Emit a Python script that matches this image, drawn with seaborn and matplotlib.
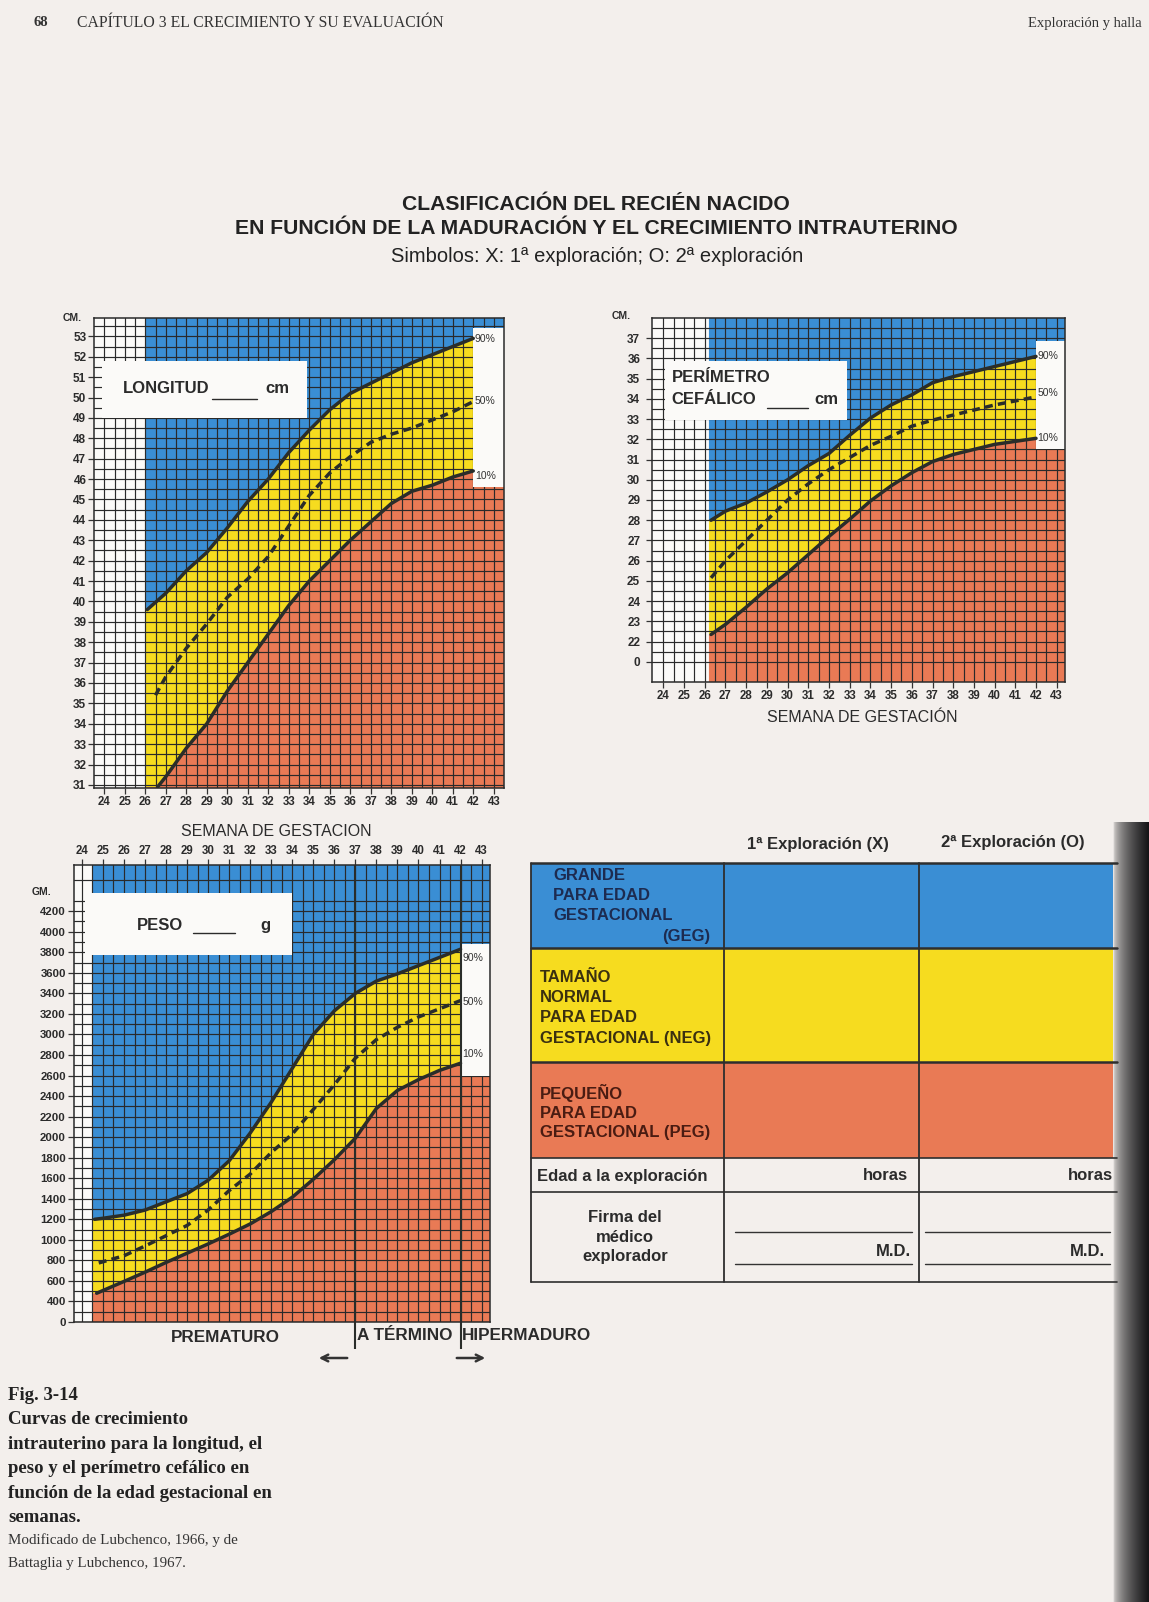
import numpy as np
import pandas as pd
import matplotlib
matplotlib.use("Agg")
import matplotlib.pyplot as plt
import seaborn as sns
from matplotlib import font_manager
from matplotlib.patches import Rectangle

sns.set_theme(style="white")
plt.rcParams['font.family'] = ['Liberation Sans', 'DejaVu Sans']
nombres = {f.name for f in font_manager.fontManager.ttflist}
SERIF = 'Liberation Serif' if 'Liberation Serif' in nombres else 'DejaVu Serif'

# colores
AZUL = '#3a8ed4'
AMARILLO = '#f6dc1f'
NARANJA = '#e97a55'
PAGE = '#f3efec'
BLANCO = '#fbfaf8'
INK = '#2a2d2a'
TXT = '#2b2b2b'

#### DATOS
# LONGITUD (cm)
long_s90 = [26.1, 27, 28, 29, 30, 31, 32, 33, 34, 35, 36, 37, 38, 39, 40, 41, 42]
long_p90 = [39.6, 40.4, 41.5, 42.4, 43.6, 44.9, 46.0, 47.3, 48.4, 49.4, 50.2, 50.7, 51.2, 51.7, 52.1, 52.5, 52.9]
long_s50 = [26.5, 27, 28, 29, 30, 31, 32, 33, 34, 35, 36, 37, 38, 39, 40, 41, 42]
long_p50 = [35.4, 36.3, 37.7, 38.9, 40.2, 41.1, 42.2, 43.7, 45.2, 46.3, 47.1, 47.8, 48.2, 48.5, 48.9, 49.3, 49.8]
long_s10 = [26.6, 27, 28, 29, 30, 31, 32, 33, 34, 35, 36, 37, 38, 39, 40, 41, 42]
long_p10 = [30.9, 31.4, 32.8, 34.0, 35.6, 37.0, 38.4, 39.8, 41.0, 42.0, 43.0, 43.9, 44.8, 45.4, 45.7, 46.1, 46.4]

# PERIMETRO CEFALICO (cm)
pc_s90 = [26.3, 27, 28, 29, 30, 31, 32, 33, 34, 35, 36, 37, 38, 39, 40, 41, 42]
pc_p90 = [28.0, 28.45, 28.85, 29.4, 30.0, 30.7, 31.3, 32.2, 33.05, 33.7, 34.2, 34.8, 35.1, 35.35, 35.6, 35.85, 36.1]
pc_s50 = [26.3, 27, 28, 29, 30, 31, 32, 33, 34, 35, 36, 37, 38, 39, 40, 41, 42]
pc_p50 = [25.15, 26.0, 27.0, 28.0, 29.0, 29.8, 30.5, 31.1, 31.7, 32.15, 32.65, 32.95, 33.2, 33.45, 33.7, 33.9, 34.1]
pc_s10 = [26.3, 27, 28, 29, 30, 31, 32, 33, 34, 35, 36, 37, 38, 39, 40, 41, 42]
pc_p10 = [22.35, 22.85, 23.7, 24.6, 25.4, 26.3, 27.2, 28.05, 28.95, 29.7, 30.35, 30.9, 31.25, 31.5, 31.75, 31.9, 32.05]

# PESO (g)
peso_s90 = [24.6, 25, 26, 27, 28, 29, 30, 31, 32, 33, 34, 35, 36, 37, 38, 39, 40, 41, 42]
peso_p90 = [1200, 1210, 1240, 1290, 1370, 1450, 1580, 1770, 2040, 2340, 2670, 3000, 3230, 3400, 3520, 3590, 3670, 3750, 3830]
peso_s50 = [24.8, 26, 27, 28, 29, 30, 31, 32, 33, 34, 35, 36, 37, 38, 39, 40, 41, 42]
peso_p50 = [775, 845, 940, 1040, 1140, 1290, 1480, 1640, 1850, 2030, 2270, 2510, 2770, 2950, 3070, 3170, 3250, 3330]
peso_s10 = [24.7, 26, 27, 28, 29, 30, 31, 32, 33, 34, 35, 36, 37, 38, 39, 40, 41, 42]
peso_p10 = [480, 595, 685, 780, 870, 960, 1055, 1155, 1275, 1415, 1590, 1780, 1990, 2280, 2455, 2560, 2650, 2720]

semanas = list(range(24, 44))
long_ticks = list(range(31, 54))
pc_ticks = list(range(21, 38))
pc_labels = ['0'] + [str(v) for v in range(22, 38)]
peso_ticks = list(range(200, 4201, 200))
peso_labels = ['0'] + [str(v) for v in range(400, 4201, 200)]
percentiles = ['90%', '50%', '10%']

W, H = 1149, 1602
fig = plt.figure(figsize=(W / 100, H / 100), dpi=100)
fig.patch.set_facecolor(PAGE)

page = fig.add_axes([0, 0, 1, 1], zorder=0)
page.axis('off')


def caja(x0, y0, x1, y1):
    # caja en pixeles -> fraccion de figura
    return [x0 / W, 1 - y1 / H, (x1 - x0) / W, (y1 - y0) / H]


def grafica(ax, xlim, ylim, inicio, curvas, caja_pct, yticks, ylabels, pct_y, arriba=False):
    s90, p90, s50, p50, s10, p10 = curvas
    x0, x1 = xlim
    y0, y1 = ylim
    ax.set_facecolor(BLANCO)
    # zonas de color
    ax.fill([inicio, inicio] + s90 + [42], [y1, p90[0]] + p90 + [y1], color=AZUL, lw=0, zorder=1)
    ax.fill([inicio, inicio] + s90 + s10[::-1], [p10[0], p90[0]] + p90 + p10[::-1],
            color=AMARILLO, lw=0, zorder=1)
    ax.fill([inicio, inicio] + s10 + [42], [y0, p10[0]] + p10 + [y0], color=NARANJA, lw=0, zorder=1)
    lo, hi = caja_pct
    ax.fill([42, x1, x1, 42], [hi, hi, y1, y1], color=AZUL, lw=0, zorder=1)
    ax.fill([42, x1, x1, 42], [y0, y0, lo, lo], color=NARANJA, lw=0, zorder=1)
    ax.add_patch(Rectangle((42, lo), x1 - 42, hi - lo, facecolor=BLANCO, edgecolor='none', zorder=3))

    # percentiles
    for s, p, ls in [(s90, p90, '-'), (s50, p50, (0, (2.3, 1.5))), (s10, p10, '-')]:
        df = pd.DataFrame({'semana': s, 'valor': p})
        sns.lineplot(data=df, x='semana', y='valor', ax=ax, color=INK,
                     lw=2.5, linestyle=ls, zorder=4, estimator=None, sort=False)
    for lab, yy in zip(percentiles, pct_y):
        ax.text(42.08, yy, lab, fontsize=7.5, color='#333', va='center', ha='left', zorder=5)

    ax.set_xlim(x0, x1)
    ax.set_ylim(y0, y1)
    ax.set_xlabel('')
    ax.set_ylabel('')
    ax.set_xticks(semanas)
    ax.set_xticks(np.arange(24.5, 43.0, 1.0), minor=True)
    ax.set_xticklabels([str(s) for s in semanas], fontsize=8.3, fontweight='bold', color=TXT)
    ax.set_yticks(yticks)
    paso = yticks[1] - yticks[0]
    ax.set_yticks(np.arange(yticks[0] + paso / 2, y1, paso), minor=True)
    ax.set_yticklabels(ylabels, fontsize=8.5, fontweight='bold', color=TXT)
    ax.set_axisbelow(False)
    ax.grid(True, which='both', color='#2a2a2a', lw=0.85)
    ax.tick_params(which='major', length=4, width=0.9, color='#333', pad=1.5,
                   direction='out', left=True, bottom=not arriba, top=arriba)
    ax.tick_params(which='minor', length=0)
    if arriba:
        ax.xaxis.tick_top()
    for sp in ax.spines.values():
        sp.set_color('#2a2a2a')
        sp.set_linewidth(1.1)
        sp.set_zorder(4.5)


# --- LONGITUD
ax1 = fig.add_axes(caja(94, 318, 504, 788), zorder=2)
grafica(ax1, (23.5, 43.5), (30.85, 53.9), 26.0,
        (long_s90, long_p90, long_s50, long_p50, long_s10, long_p10),
        (45.6, 53.4), long_ticks, [str(v) for v in long_ticks], (52.85, 49.85, 46.15))
ax1.add_patch(Rectangle((23.9, 49.0), 10.0, 2.8, facecolor=BLANCO, edgecolor='none', zorder=3.8))
ax1.text(24.9, 50.45, 'LONGITUD', fontsize=12, fontweight='bold', color=TXT, va='center', zorder=5)
ax1.plot([29.25, 31.45], [49.95, 49.95], color=TXT, lw=1.0, zorder=5)
ax1.text(31.85, 50.45, 'cm', fontsize=12, fontweight='bold', color=TXT, va='center', zorder=5)

# --- PERIMETRO CEFALICO
ax2 = fig.add_axes(caja(652, 318, 1065, 682), zorder=2)
grafica(ax2, (23.45, 43.4), (20, 38), 26.2,
        (pc_s90, pc_p90, pc_s50, pc_p50, pc_s10, pc_p10),
        (31.5, 36.85), pc_ticks, pc_labels, (36.1, 34.3, 32.07))
ax2.tick_params(axis='y', pad=4.5)
ax2.add_patch(Rectangle((24.1, 32.97), 8.76, 2.88, facecolor=BLANCO, edgecolor='none', zorder=3.8))
ax2.text(24.4, 35.05, 'PERÍMETRO', fontsize=12, fontweight='bold', color=TXT, va='center', zorder=5)
ax2.text(24.4, 33.95, 'CEFÁLICO', fontsize=12, fontweight='bold', color=TXT, va='center', zorder=5)
ax2.plot([29.0, 31.0], [33.55, 33.55], color=TXT, lw=1.0, zorder=5)
ax2.text(31.3, 33.95, 'cm', fontsize=12, fontweight='bold', color=TXT, va='center', zorder=5)

# --- PESO
ax3 = fig.add_axes(caja(73.5, 865, 490, 1322), zorder=2)
grafica(ax3, (23.6, 43.4), (200, 4650), 24.5,
        (peso_s90, peso_p90, peso_s50, peso_p50, peso_s10, peso_p10),
        (2600, 3880), peso_ticks, peso_labels, (3740, 3313, 2813), arriba=True)
ax3.tick_params(axis='y', labelsize=8.2)
ax3.add_patch(Rectangle((24.16, 3770), 9.84, 606, facecolor=BLANCO, edgecolor='none', zorder=3.8))
ax3.text(26.6, 4063, 'PESO', fontsize=12, fontweight='bold', color=TXT, va='center', zorder=5)
ax3.plot([29.3, 31.3], [3990, 3990], color=TXT, lw=1.0, zorder=5)
ax3.text(32.5, 4063, 'g', fontsize=12, fontweight='bold', color=TXT, va='center', zorder=5)
ax3.vlines([37, 42], -60, 4650, color=INK, lw=1.5, zorder=3.6, clip_on=False)

# --- textos de la pagina
page.set_xlim(0, W)
page.set_ylim(H, 0)
page.text(34, 23, '68', fontsize=10.5, fontweight='bold', family=SERIF, color='#333', va='center')
page.text(77, 23, 'CAPÍTULO 3 EL CRECIMIENTO Y SU EVALUACIÓN', fontsize=11.3, family=SERIF,
          color='#333', va='center')
page.text(1028, 23, 'Exploración y halla', fontsize=10.5, family=SERIF, color='#333', va='center')

page.text(596, 204, 'CLASIFICACIÓN DEL RECIÉN NACIDO', fontsize=15.2, fontweight='bold',
          color='#222', ha='center', va='center')
page.text(596, 229, 'EN FUNCIÓN DE LA MADURACIÓN Y EL CRECIMIENTO INTRAUTERINO', fontsize=15.2,
          fontweight='bold', color='#222', ha='center', va='center')
page.text(597, 257, 'Simbolos: X: 1ª exploración; O: 2ª exploración', fontsize=14.5,
          color='#222', ha='center', va='center')

page.text(63, 318, 'CM.', fontsize=7.5, fontweight='bold', color=TXT, va='center')
page.text(612, 316, 'CM.', fontsize=7.5, fontweight='bold', color=TXT, va='center')
page.text(32, 892, 'GM.', fontsize=7.5, fontweight='bold', color=TXT, va='center')
page.text(276, 831, 'SEMANA DE GESTACION', fontsize=11.5, color=TXT, ha='center', va='center')
page.text(862, 718, 'SEMANA DE GESTACIÓN', fontsize=11.5, color=TXT, ha='center', va='center')

page.text(225, 1337, 'PREMATURO', fontsize=12.3, fontweight='bold', color=TXT, ha='center', va='center')
page.text(357, 1336, 'A TÉRMINO', fontsize=12.3, fontweight='bold', color=TXT, va='center')
page.text(462, 1336, 'HIPERMADURO', fontsize=12.3, fontweight='bold', color=TXT, va='center')
page.annotate('', xy=(316, 1358), xytext=(350, 1358),
              arrowprops=dict(arrowstyle='->', lw=1.8, color='#333'))
page.annotate('', xy=(488, 1358), xytext=(454, 1358),
              arrowprops=dict(arrowstyle='->', lw=1.8, color='#333'))

# --- tabla de clasificacion
filas = [(863, 948, AZUL), (948, 1062, AMARILLO), (1062, 1158, NARANJA)]
for y0, y1, c in filas:
    page.add_patch(Rectangle((531, y0), 1117 - 531, y1 - y0, facecolor=c, edgecolor='none'))
for yy, lw in [(863, 1.8), (948, 1.8), (1062, 1.8), (1158, 1.2), (1192, 1.2), (1282, 1.2)]:
    page.plot([531, 1117], [yy, yy], color='#2e2e2e', lw=lw)
for xx in [531, 724, 919]:
    page.plot([xx, xx], [863, 1282], color='#2e2e2e', lw=1.3)

page.text(818, 845, '1ª Exploración (X)', fontsize=12, fontweight='bold', color=TXT, ha='center', va='center')
page.text(1013, 843, '2ª Exploración (O)', fontsize=12, fontweight='bold', color=TXT, ha='center', va='center')

for i, t in enumerate(['GRANDE', 'PARA EDAD', 'GESTACIONAL']):
    page.text(553, 875 + 20 * i, t, fontsize=12, fontweight='bold', color='#1d2b50', va='center')
page.text(710, 936, '(GEG)', fontsize=12, fontweight='bold', color='#1d2b50', ha='right', va='center')
for i, t in enumerate(['TAMAÑO', 'NORMAL', 'PARA EDAD', 'GESTACIONAL (NEG)']):
    page.text(540, 978 + 20 * i, t, fontsize=12, fontweight='bold', color='#3a3010', va='center')
for i, t in enumerate(['PEQUEÑO', 'PARA EDAD', 'GESTACIONAL (PEG)']):
    page.text(540, 1093 + 20 * i, t, fontsize=12, fontweight='bold', color='#4a1c12', va='center')

page.text(537, 1176, 'Edad a la exploración', fontsize=12, fontweight='bold', color=TXT, va='center')
page.text(908, 1176, 'horas', fontsize=12, fontweight='bold', color=TXT, ha='right', va='center')
page.text(1113, 1176, 'horas', fontsize=12, fontweight='bold', color=TXT, ha='right', va='center')
for i, t in enumerate(['Firma del', 'médico', 'explorador']):
    page.text(625, 1217 + 20 * i, t, fontsize=12, fontweight='bold', color=TXT, ha='center', va='center')
for xa, xb in [(735, 912), (925, 1110)]:
    page.plot([xa, xb], [1232, 1232], color='#333', lw=1.0)
    page.plot([xa, xb], [1264, 1264], color='#333', lw=1.0)
page.text(911, 1251, 'M.D.', fontsize=12, fontweight='bold', color=TXT, ha='right', va='center')
page.text(1105, 1251, 'M.D.', fontsize=12, fontweight='bold', color=TXT, ha='right', va='center')

# --- pie de figura
pie = ['Fig. 3-14', 'Curvas de crecimiento', 'intrauterino para la longitud, el',
       'peso y el perímetro cefálico en', 'función de la edad gestacional en', 'semanas.']
for i, t in enumerate(pie):
    page.text(8, 1395 + 24.6 * i, t, fontsize=13.5, fontweight='bold', family=SERIF, color='#222', va='center')
for i, t in enumerate(['Modificado de Lubchenco, 1966, y de', 'Battaglia y Lubchenco, 1967.']):
    page.text(8, 1540 + 23 * i, t, fontsize=10.8, family=SERIF, color='#333', va='center')

# borde oscuro de la encuadernacion
grad = np.linspace(0, 1, 60)
c0 = np.array([243, 239, 236]) / 255
c1 = np.array([20, 20, 22]) / 255
img = (c0[None, :] * (1 - grad[:, None] ** 0.5) + c1[None, :] * grad[:, None] ** 0.5)[None, :, :]
page.imshow(img, extent=[1113, 1149, 1602, 822], aspect='auto', zorder=1)
page.set_xlim(0, W)
page.set_ylim(H, 0)

fig.savefig('out.png', dpi=100, facecolor=PAGE)
